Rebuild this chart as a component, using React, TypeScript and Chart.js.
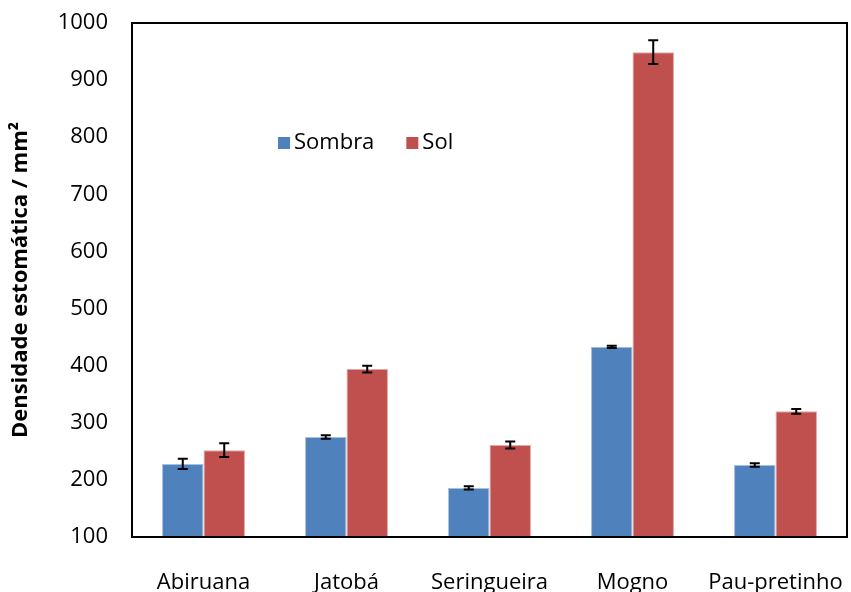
import React, { useEffect, useRef } from "react";
import { Chart, registerables } from "chart.js";

Chart.register(...registerables);

const categories = ["Abiruana", "Jatobá", "Seringueira", "Mogno", "Pau-pretinho"];
const sombra = [228, 275, 186, 433, 226];
const sol = [252, 394, 261, 949, 320];
const sombraErr = [9, 3, 3, 2, 3];
const solErr = [12, 6, 6, 21, 4];
const seriesNames = ["Sombra", "Sol"];
const yTitle = "Densidade estomática / mm²";

const FONT = "'Open Sans', sans-serif";

const errorBarPlugin = {
  id: "errorBars",
  afterDatasetsDraw(chart: any) {
    const ctx = chart.ctx;
    const yScale = chart.scales.y;
    const errs = [sombraErr, solErr];
    ctx.save();
    ctx.strokeStyle = "#000";
    ctx.lineWidth = 2;
    chart.data.datasets.forEach((ds: any, di: number) => {
      const meta = chart.getDatasetMeta(di);
      meta.data.forEach((bar: any, i: number) => {
        const v = ds.data[i];
        const e = errs[di][i];
        const yt = yScale.getPixelForValue(v + e);
        const yb = yScale.getPixelForValue(v - e);
        const x = bar.x;
        const cw = 5;
        ctx.beginPath();
        ctx.moveTo(x, yt);
        ctx.lineTo(x, yb);
        ctx.moveTo(x - cw, yt);
        ctx.lineTo(x + cw, yt);
        ctx.moveTo(x - cw, yb);
        ctx.lineTo(x + cw, yb);
        ctx.stroke();
      });
    });
    ctx.restore();
  },
};

const frameAndLegendPlugin = {
  id: "frameLegend",
  afterDraw(chart: any) {
    const ctx = chart.ctx;
    const a = chart.chartArea;
    ctx.save();
    ctx.strokeStyle = "#000";
    ctx.lineWidth = 2;
    ctx.strokeRect(a.left, a.top, a.right - a.left, a.bottom - a.top);
    // legend
    ctx.font = "22px " + FONT;
    ctx.textBaseline = "middle";
    let x = a.left + 146;
    const y = a.top + 120;
    chart.data.datasets.forEach((ds: any) => {
      ctx.fillStyle = ds.backgroundColor;
      ctx.fillRect(x, y - 6, 12, 12);
      ctx.fillStyle = "#000";
      ctx.fillText(ds.label, x + 16, y);
      x += 16 + ctx.measureText(ds.label).width + 32;
    });
    ctx.restore();
  },
};

const zeroPad = (s: any) => {
  s.paddingTop = 0;
  s.paddingBottom = 0;
  s.paddingLeft = 0;
  s.paddingRight = 0;
};

export default function App() {
  const ref = useRef<HTMLCanvasElement>(null);
  useEffect(() => {
    document.body.style.margin = "0";
    const chart = new Chart(ref.current!, {
      type: "bar",
      data: {
        labels: categories,
        datasets: [
          {
            label: seriesNames[0],
            data: sombra,
            backgroundColor: "#4F81BD",
            borderColor: "#A7C0DE",
            borderWidth: { top: 1, left: 1, right: 1, bottom: 0 },
          },
          {
            label: seriesNames[1],
            data: sol,
            backgroundColor: "#C0504D",
            borderColor: "#E0A8A6",
            borderWidth: { top: 1, left: 1, right: 1, bottom: 0 },
          },
        ],
      },
      options: {
        animation: false,
        responsive: false,
        maintainAspectRatio: false,
        devicePixelRatio: 1,
        layout: { padding: { top: 23, right: 4, left: 0, bottom: 0 } },
        plugins: { legend: { display: false }, tooltip: { enabled: false } },
        datasets: { bar: { categoryPercentage: 0.58, barPercentage: 1 } },
        scales: {
          x: {
            grid: { display: false, drawTicks: false },
            border: { display: false },
            ticks: { color: "#000", font: { family: FONT, size: 22 }, padding: 33, maxRotation: 0 },
            afterFit(s: any) { s.height = 55; zeroPad(s); },
          },
          y: {
            min: 100,
            max: 1000,
            grid: { display: false, drawTicks: false },
            border: { display: false },
            ticks: {
              stepSize: 100,
              color: "#000",
              font: { family: FONT, size: 22 },
              padding: 24,
              callback: (v: any) => String(v),
            },
            title: {
              display: true,
              text: yTitle,
              color: "#000",
              font: { family: FONT, size: 22, weight: "bold" },
              padding: { top: 8, bottom: 0 },
            },
            afterFit(s: any) { s.width = 132; zeroPad(s); },
          },
        },
      },
      plugins: [errorBarPlugin, frameAndLegendPlugin],
    });
    return () => chart.destroy();
  }, []);
  return (
    <div style={{ position: "absolute", left: 0, top: 0, width: 851, height: 592 }}>
      <canvas ref={ref} width={851} height={592} />
    </div>
  );
}
